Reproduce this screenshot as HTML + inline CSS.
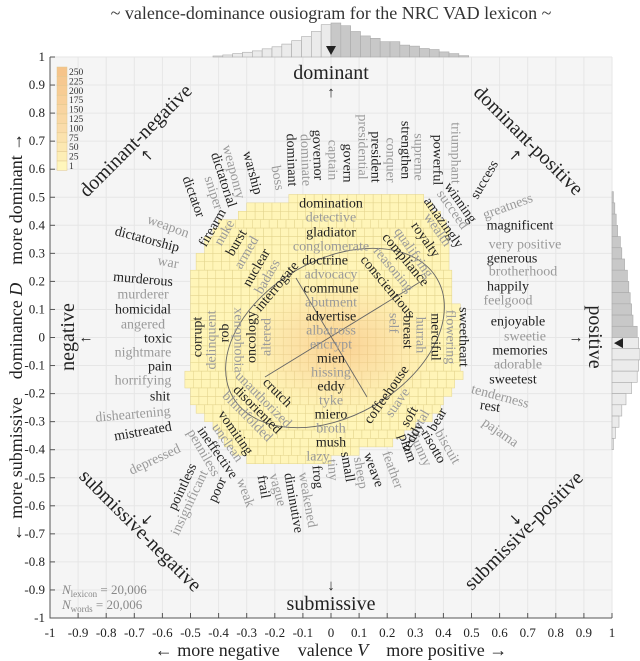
<!DOCTYPE html>
<html><head><meta charset="utf-8"><style>
html,body{margin:0;padding:0;background:#fff;}
svg{display:block;font-family:"Liberation Serif",serif;}
</style></head><body>
<svg id="chart" width="640" height="661" viewBox="0 0 640 661" xmlns="http://www.w3.org/2000/svg">
<defs>
<radialGradient id="hot" cx="0.5" cy="0.5" r="0.5">
<stop offset="0" stop-color="#f6b878" stop-opacity="0.6"/>
<stop offset="0.5" stop-color="#f8c890" stop-opacity="0.35"/>
<stop offset="1" stop-color="#fbe0a0" stop-opacity="0"/>
</radialGradient>
<clipPath id="plotclip"><rect x="50" y="57" width="562" height="561"/></clipPath>
</defs>
<text x="331" y="19" font-size="18" text-anchor="middle" fill="#333">~ valence-dominance ousiogram for the NRC VAD lexicon ~</text>
<rect x="50" y="57" width="562" height="561" fill="#f5f5f5"/>
<g id="grid"></g>
<g id="heat" clip-path="url(#plotclip)"></g>
<ellipse cx="340" cy="345" rx="110" ry="75" fill="url(#hot)"/>
<g fill="none" stroke="#666" stroke-width="0.9">
<ellipse cx="335" cy="338" rx="118" ry="78" transform="rotate(-30 335 338)"/>
<line x1="265" y1="377" x2="420" y2="282"/>
<line x1="296" y1="278" x2="367" y2="397"/>
</g>
<g id="hists"></g>
<g id="words"></g>
<g id="axes"></g>
<g id="cbar"></g>
<g fill="#222" font-size="20" text-anchor="middle">
<text x="331" y="79">dominant</text>
<text x="331" y="97" font-size="15">↑</text>
<text x="331" y="610">submissive</text>
<text x="331" y="590" font-size="15">↓</text>
<text transform="translate(74 337) rotate(-90)">negative</text>
<text x="86" y="342" font-size="15">←</text>
<text transform="translate(589 337) rotate(90)">positive</text>
<text x="576" y="342" font-size="15">→</text>
<text transform="translate(140 145) rotate(-45)">dominant-negative</text>
<text x="147" y="160" font-size="15">↖</text>
<text transform="translate(524 145) rotate(45)">dominant-positive</text>
<text x="515" y="160" font-size="15">↗</text>
<text transform="translate(136 535) rotate(45)">submissive-negative</text>
<text x="147" y="524" font-size="15">↙</text>
<text transform="translate(528 535) rotate(-45)">submissive-positive</text>
<text x="515" y="524" font-size="15">↘</text>
</g>
<g fill="#888" font-size="13">
<text x="62" y="594"><tspan font-style="italic">N</tspan><tspan font-size="9" dy="3">lexicon</tspan><tspan dy="-3"> = 20,006</tspan></text>
<text x="62" y="609"><tspan font-style="italic">N</tspan><tspan font-size="9" dy="3">words</tspan><tspan dy="-3"> = 20,006</tspan></text>
</g>
<text x="331" y="656" font-size="18" text-anchor="middle" fill="#222">← more negative&#160;&#160;&#160;&#160;valence <tspan font-style="italic">V</tspan>&#160;&#160;&#160;&#160;more positive →</text>
<text transform="translate(22 337) rotate(-90)" font-size="18" text-anchor="middle" fill="#222">← more submissive&#160;&#160;&#160;&#160;dominance <tspan font-style="italic">D</tspan>&#160;&#160;&#160;&#160;more dominant →</text>
</svg>
<script>
// ---- data ----
const heatRowD = [0.51,0.48,0.45,0.42,0.39,0.36,0.33,0.30,0.27,0.24,0.21,0.18,0.15,0.12,0.09,0.06,0.03,0.00,-0.03,-0.06,-0.09,-0.12,-0.15,-0.18,-0.21,-0.24,-0.27,-0.30,-0.33,-0.36,-0.39,-0.42];
const heatRowL = [-0.15,-0.30,-0.33,-0.40,-0.42,-0.45,-0.45,-0.48,-0.48,-0.50,-0.50,-0.50,-0.50,-0.50,-0.50,-0.50,-0.50,-0.50,-0.50,-0.50,-0.50,-0.52,-0.52,-0.50,-0.50,-0.48,-0.45,-0.42,-0.40,-0.38,-0.35,-0.30];
const heatRowR = [0.33,0.36,0.38,0.40,0.40,0.41,0.42,0.42,0.42,0.42,0.42,0.43,0.43,0.45,0.45,0.45,0.45,0.45,0.45,0.45,0.45,0.45,0.43,0.43,0.40,0.38,0.35,0.30,0.25,0.20,0.10,0.00];
const histVBins = [-0.42,-0.385,-0.35,-0.315,-0.28,-0.245,-0.21,-0.175,-0.14,-0.105,-0.07,-0.035,0.00,0.035,0.07,0.105,0.14,0.175,0.21,0.245,0.28,0.315,0.35,0.385,0.42,0.455];
const histVValues = [0.03,0.06,0.10,0.14,0.18,0.24,0.30,0.38,0.48,0.60,0.75,0.95,1.00,0.92,0.75,0.62,0.55,0.45,0.45,0.35,0.32,0.25,0.22,0.15,0.10,0.04];
const histDBins = [0.52,0.48,0.44,0.40,0.36,0.32,0.28,0.24,0.20,0.16,0.12,0.08,0.04,0.00,-0.04,-0.08,-0.12,-0.16,-0.20,-0.24,-0.28,-0.32,-0.36];
const histDValues = [0.05,0.10,0.15,0.20,0.30,0.35,0.45,0.55,0.60,0.65,0.70,0.75,0.90,0.95,1.00,0.95,0.90,0.70,0.50,0.35,0.25,0.12,0.05];
const xTicks = [-1,-0.9,-0.8,-0.7,-0.6,-0.5,-0.4,-0.3,-0.2,-0.1,0,0.1,0.2,0.3,0.4,0.5,0.6,0.7,0.8,0.9,1];
const yTicks = [-1,-0.9,-0.8,-0.7,-0.6,-0.5,-0.4,-0.3,-0.2,-0.1,0,0.1,0.2,0.3,0.4,0.5,0.6,0.7,0.8,0.9,1];
const cbarLabels = ["250","225","200","175","150","125","100","75","50","25","1"];
const cbarColors = ["#f6c48a","#f6c890","#f7cc94","#f8d09a","#f8d4a0","#f9d8a4","#fadcaa","#fbe2ae","#fce8b2","#fdeeb6","#fff6bc"];
// [word, x, y, rotation, gray]
const words = [
["domination",331,204,0,0],["detective",331,218,0,1],["gladiator",331,233,0,0],["conglomerate",331,247,0,1],["doctrine",325,261,0,0],["advocacy",331,275,0,1],["commune",331,289,0,0],["abutment",331,303,0,1],["advertise",331,317,0,0],["albatross",331,331,0,1],["encrypt",331,345,0,1],["mien",331,359,0,0],["hissing",331,373,0,1],["eddy",331,387,0,0],["tyke",331,401,0,1],["miero",331,415,0,0],["broth",331,429,0,1],["mush",331,443,0,0],["lazy",318,457,0,1],
["dictator",193,197,70,0],["sniper",213,193,72,1],["dictatorial",223,180,72,0],["weaponry",233,172,75,1],["warship",252,173,75,0],["boss",277,178,80,1],["dominant",291,160,88,0],["dominate",305,160,88,1],["governor",317,155,88,0],["captain",332,160,90,1],["govern",347,163,90,0],["presidential",362,147,90,1],["president",375,157,90,0],["conquer",390,160,90,1],["strengthen",405,150,90,0],["supreme",418,157,90,1],["powerful",437,160,90,0],["triumphant",455,153,90,1],
["firearm",213,228,-60,0],["weapon",168,227,20,1],["dictatorship",147,240,15,0],["war",168,263,10,1],["murderous",143,280,5,0],["murderer",143,295,0,1],["nuke",225,233,-60,1],["burst",237,243,-60,0],["armed",247,253,-60,1],["nuclear",257,268,-60,0],["badass",268,277,-60,1],["interrogate",277,287,-50,0],
["success",485,180,-60,0],["winning",460,203,55,0],["succeed",452,210,55,1],["amazingly",443,223,55,0],["wealth",437,230,55,1],["royalty",425,240,55,0],["qualifying",413,253,55,1],["compliance",405,260,50,0],["reasoning",393,270,50,1],["conscientious",387,287,50,0],
["greatness",508,207,-20,1],["magnificent",520,226,0,0],["very positive",525,245,0,1],["generous",512,259,0,0],["brotherhood",523,272,0,1],["happily",508,287,0,0],["feelgood",508,301,0,1],["enjoyable",518,322,0,0],["sweetie",525,337,0,1],["memories",520,351,0,0],["adorable",518,365,0,1],["sweetest",513,380,0,0],["tenderness",500,397,15,1],["rest",490,407,8,0],["pajama",500,433,35,1],
["sweetheart",463,337,90,0],["flowering",450,337,90,1],["merciful",435,337,90,0],["hurrah",420,335,90,1],["breast",407,332,90,0],["self",393,323,90,1],
["coffeehouse",387,395,-55,0],["suave",398,403,-55,1],["soft",410,417,-60,0],["petal",420,423,-60,1],["bear",438,420,-60,0],["biscuit",447,447,60,1],["risotto",433,447,60,0],["bunny",420,450,65,1],["teddy",413,437,-60,0],["plum",407,448,70,0],
["feather",392,470,70,1],["weave",373,470,70,0],["sheep",360,473,80,1],["small",347,467,80,0],["tiny",332,470,85,1],["frog",317,477,85,0],["weakened",307,500,80,1],["diminutive",293,503,80,0],["vague",277,490,75,1],["frail",263,487,80,0],["weak",245,493,70,1],
["homicidal",143,310,0,0],["angered",143,325,0,1],["toxic",158,339,0,0],["nightmare",143,353,0,1],["pain",160,367,0,0],["horrifying",143,381,0,1],["shit",160,397,0,0],["disheartening",133,415,-5,1],["mistreated",143,432,-10,0],["depressed",155,460,-25,1],
["pointless",183,487,-65,0],["penniless",203,453,60,1],["insignificant",190,503,-65,1],["poor",218,490,-65,0],["ineffective",217,453,55,0],["unclean",227,443,55,1],["vomiting",235,433,55,0],["blindfolded",247,417,45,1],["disoriented",257,410,45,0],["unauthorized",263,400,45,1],["crutch",277,393,45,0],
["corrupt",198,337,-90,0],["delinquent",212,340,-90,1],["rob",225,333,-90,0],["xenophobia",238,340,90,1],["oncology",252,337,-90,0],["altered",267,337,-90,1]
];
// ---- scales ----
const X = v => 331 + v*281;
const Y = d => 337.5 - d*280.5;
const NS = "http://www.w3.org/2000/svg";
function mk(tag, attrs, parent){const e=document.createElementNS(NS,tag);for(const k in attrs)e.setAttribute(k,attrs[k]);parent.appendChild(e);return e;}
// grid
const grid=document.getElementById('grid');
xTicks.forEach(t=>{const l=mk('line',{x1:X(t),x2:X(t),y1:57,y2:618,stroke:'#e6e6e6','stroke-width':1},grid);

});
yTicks.forEach(t=>{const l=mk('line',{x1:50,x2:612,y1:Y(t),y2:Y(t),stroke:'#e6e6e6','stroke-width':1},grid);

});
// heatmap
const heat=document.getElementById('heat');
const cell=0.03;
heatRowD.forEach((d,i)=>{
  for(let v=heatRowL[i]; v<heatRowR[i]-1e-6; v+=cell){
    const r=mk('rect',{x:X(v),y:Y(d),width:cell*281,height:cell*280.5,fill:'#fff5b8',stroke:'#e2d38c','stroke-width':0.5},heat);
    
    
  }
});
// histograms
const hists=document.getElementById('hists');
histVBins.forEach((b,i)=>{const h=histVValues[i]*34;
 const r=mk('rect',{x:X(b),y:57-h,width:0.035*281,height:h,fill:b<0?'#ebebeb':'#c8c8c8',stroke:'#aaa','stroke-width':0.6},hists);
 
 });
histDBins.forEach((b,i)=>{const w=histDValues[i]*28;
 const r=mk('rect',{x:612,y:Y(b),width:w,height:0.04*280.5,fill:b>0?'#c8c8c8':'#ebebeb',stroke:'#aaa','stroke-width':0.6},hists);
 
 });
const tv=mk('path',{d:`M${X(0)-5} 46 L${X(0)+5} 46 L${X(0)} 55 Z`,fill:'#222'},hists);


const td=mk('path',{d:`M614 ${Y(-0.02)} L623 ${Y(-0.02)-5} L623 ${Y(-0.02)+5} Z`,fill:'#222'},hists);


// words
const wg=document.getElementById('words');
words.forEach(w=>{
  const t=mk('text',{transform:`translate(${w[1]} ${w[2]}) rotate(${w[3]})`,'text-anchor':'middle','dominant-baseline':'central','font-size':14,fill:w[4]?'#9a9a9a':'#222'},wg);
  t.textContent=w[0];
  
  
});
// axes
const ax=document.getElementById('axes');
const al=mk('path',{d:'M50 57 L50 618 L612 618',fill:'none',stroke:'#555','stroke-width':1},ax);


xTicks.forEach(t=>{
  const l=mk('line',{x1:X(t),x2:X(t),y1:618,y2:613,stroke:'#555'},ax);
  
  
  const s=mk('text',{x:X(t),y:637,'text-anchor':'middle','font-size':13,fill:'#222'},ax);
  s.textContent=String(t);
  
  
});
yTicks.forEach(t=>{
  const l=mk('line',{x1:50,x2:55,y1:Y(t),y2:Y(t),stroke:'#555'},ax);
  
  
  const s=mk('text',{x:45,y:Y(t)+4,'text-anchor':'end','font-size':13,fill:'#222'},ax);
  s.textContent=String(t);
  
  
});
// colorbar
const cb=document.getElementById('cbar');
cbarLabels.forEach((lab,i)=>{
  const y=67+i*9.4;
  const r=mk('rect',{x:57,y:y,width:10,height:9.4,fill:cbarColors[i],stroke:'#e0c890','stroke-width':0.5},cb);
  
  
  const s=mk('text',{x:69,y:y+8,'font-size':9.5,fill:'#333'},cb);
  s.textContent=lab;
  
  
});
</script>
</body></html>
